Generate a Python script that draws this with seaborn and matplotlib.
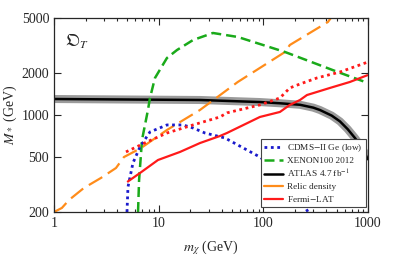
import numpy as np
import pandas as pd
import matplotlib
matplotlib.use("Agg")
import matplotlib.pyplot as plt
import seaborn as sns
from matplotlib.ticker import NullLocator, FixedLocator, FixedFormatter, LogLocator
from matplotlib.lines import Line2D

# values (m_chi in GeV, M_* in GeV)
relic_x = [1, 1.19, 1.39, 1.93, 2.81, 3.91, 4.66, 6.78, 12, 24.8, 57, 161, 179, 414, 450]
relic_y = [200, 214, 244, 298, 352, 415, 498, 578, 780, 1087, 1730, 2845, 3195, 4680, 5100]

xenon_x = [6.35, 6.5, 6.93, 7.9, 8.26, 9.22, 12, 14.96, 21.3, 33, 57, 161, 515, 1000]
xenon_y = [200, 340, 661, 1087, 1327, 1849, 2576, 2939, 3470, 3900, 3650, 2845, 2041, 1700]

cdms_x = [4.98, 5.09, 5.68, 6.63, 8.26, 12, 17.1, 21.3, 27.7, 43, 92.7, 179, 267]
cdms_y = [200, 303, 451, 589, 755, 848, 848, 806, 742, 683, 498, 340, 200]

fermi2_x = [4.87, 7.73, 12, 21.3, 38.5, 44.9, 92.7, 144, 179, 224, 325, 539, 1000]
fermi2_y = [542, 640, 742, 848, 968, 1036, 1182, 1327, 1567, 1673, 1849, 2041, 2410]

fermi_x = [5.0, 6.63, 9.85, 16.0, 24.8, 38.5, 44.9, 92.7, 144, 179, 224, 261, 433, 671, 1000]
fermi_y = [329, 382, 474, 542, 628, 706, 742, 968, 1052, 1182, 1283, 1393, 1567, 1730, 1943]

atlas_x = [1, 24.8, 92.7, 144, 224, 300, 347, 450, 539, 640, 750, 850, 934, 1000]
atlas_y = [1304, 1283, 1240, 1215, 1185, 1130, 1087, 990, 900, 790, 683, 600, 532, 474]

sns.set_style("ticks")
plt.rcParams["font.family"] = ["Liberation Serif", "DejaVu Serif"]
plt.rcParams["mathtext.fontset"] = "stix"

fig = plt.figure(figsize=(4.1, 2.61), dpi=100)
ax = fig.add_axes([0.1317, 0.1877, 0.7659, 0.7433])


def draw(x, y, color, lw, ls="-", alpha=1.0):
    d = pd.DataFrame({"x": x, "y": y})
    sns.lineplot(data=d, x="x", y="y", sort=False, estimator=None, ax=ax,
                 color=color, linewidth=lw, alpha=alpha)
    ax.lines[-1].set_linestyle(ls)
    ax.lines[-1].set_solid_capstyle("butt")


# ATLAS band + line
draw(atlas_x, atlas_y, "#909090", 5.8, alpha=0.9)
draw(atlas_x, atlas_y, "black", 1.8)
draw(relic_x, relic_y, "#ff8c1a", 1.6, (0, (7, 3)))
draw(xenon_x, xenon_y, "#1aaa1a", 1.8, (0, (4, 2)))
draw(cdms_x, cdms_y, "#1a1acc", 2.0, (0, (1, 1.3)))
draw(fermi2_x, fermi2_y, "#ff1a1a", 2.0, (0, (1, 1.3)))
draw(fermi_x, fermi_y, "#ff1a1a", 1.6)

ax.set_xscale("log")
ax.set_yscale("log")
ax.set_xlim(1, 1000)
ax.set_ylim(200, 5000)
ax.yaxis.set_major_locator(FixedLocator([200, 500, 1000, 2000, 5000]))
ax.yaxis.set_major_formatter(FixedFormatter(["200", "500", "1000", "2000", "5000"]))
ax.yaxis.set_minor_locator(NullLocator())
ax.xaxis.set_major_locator(FixedLocator([1, 10, 100, 1000]))
ax.xaxis.set_major_formatter(FixedFormatter(["1", "10", "100", "1000"]))
ax.xaxis.set_minor_locator(LogLocator(base=10, subs=np.arange(2, 10)))
ax.tick_params(which="both", direction="in", top=True, right=True, labelsize=10, width=0.8)
ax.tick_params(which="major", length=5)
ax.tick_params(which="minor", length=2.5)
for s in ax.spines.values():
    s.set_linewidth(0.9)

ax.set_xlabel(r"$m_\chi$ (GeV)", fontsize=10, labelpad=6)
ax.set_ylabel(r"$M_*$ (GeV)", fontsize=10, labelpad=2)
ax.text(0.035, 0.93, r"$\mathfrak{O}_T$", transform=ax.transAxes, fontsize=12, va="top", ha="left")

handles = [
    Line2D([], [], color="#1a1acc", lw=2.0, ls=(0, (1, 1.3))),
    Line2D([], [], color="#1aaa1a", lw=1.8, ls=(0, (4, 2))),
    Line2D([], [], color="black", lw=1.8),
    Line2D([], [], color="#ff8c1a", lw=1.6),
    Line2D([], [], color="#ff1a1a", lw=1.6),
]
labels = ["CDMS$-$II Ge (low)", "XENON100 2012", "ATLAS 4.7 fb$^{-1}$", "Relic density", "Fermi$-$LAT"]
leg = ax.legend(handles, labels, loc="lower right", bbox_to_anchor=(0.994, 0.025), fontsize=6.7,
                frameon=True, fancybox=False, framealpha=1, edgecolor="#444444",
                handlelength=2.0, handletextpad=0.5, labelspacing=0.3, borderpad=0.35, borderaxespad=0)
leg.get_frame().set_linewidth(0.8)

fig.savefig("out.png", dpi=100)
